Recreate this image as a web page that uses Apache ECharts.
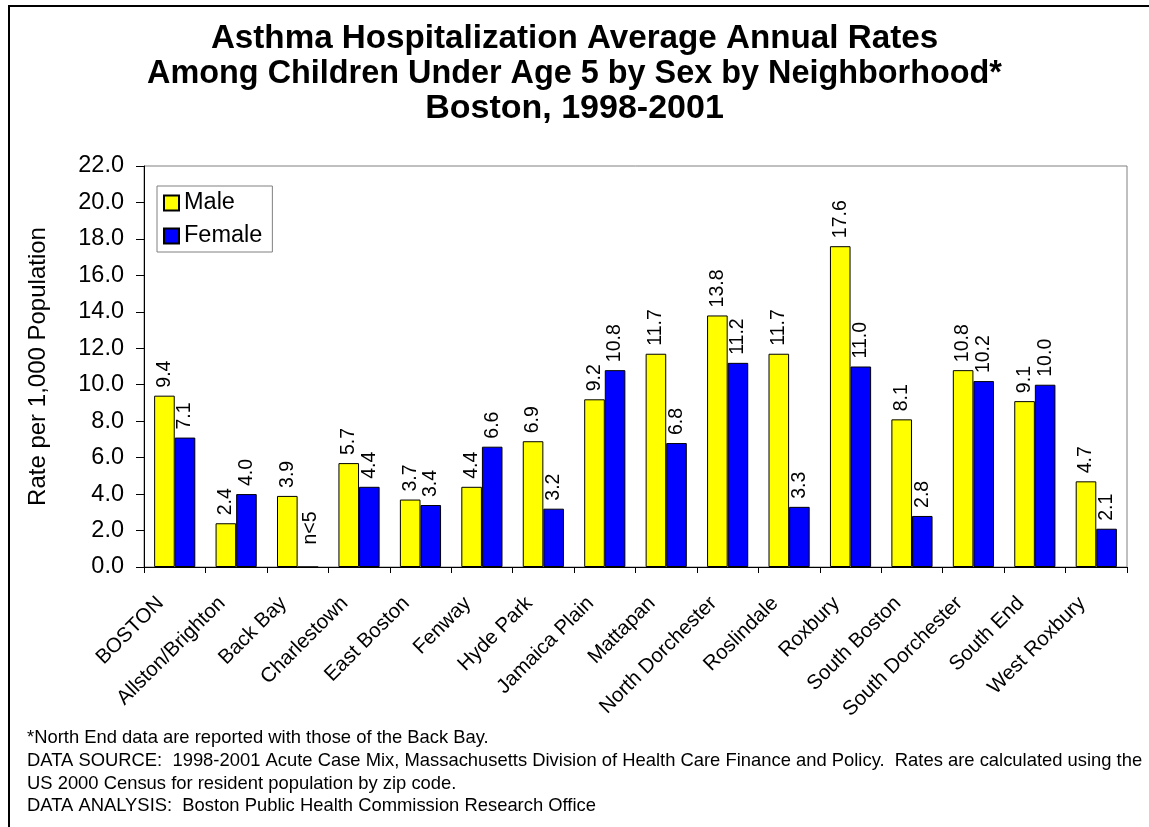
<!DOCTYPE html>
<html>
<head>
<meta charset="utf-8">
<script src="https://cdn.jsdelivr.net/npm/echarts@6/dist/echarts.min.js"></script>
<style>
  html, body { margin: 0; padding: 0; background: #fff; }
  #chart { width: 1149px; height: 827px; }
</style>
</head>
<body>
<div id="chart"></div>
<script>
// neighborhoods
var categories = ['BOSTON', 'Allston/Brighton', 'Back Bay', 'Charlestown', 'East Boston', 'Fenway',
  'Hyde Park', 'Jamaica Plain', 'Mattapan', 'North Dorchester', 'Roslindale', 'Roxbury',
  'South Boston', 'South Dorchester', 'South End', 'West Roxbury'];
var maleRates = [9.4, 2.4, 3.9, 5.7, 3.7, 4.4, 6.9, 9.2, 11.7, 13.8, 11.7, 17.6, 8.1, 10.8, 9.1, 4.7];
// null = too few cases (n<5)
var femaleRates = [7.1, 4.0, null, 4.4, 3.4, 6.6, 3.2, 10.8, 6.8, 11.2, 3.3, 11.0, 2.8, 10.2, 10.0, 2.1];
var yTicks = [0, 22, 2]; // min, max, step

var titleLines = [
  'Asthma Hospitalization Average Annual Rates',
  'Among Children Under Age 5 by Sex by Neighborhood*',
  'Boston, 1998-2001'
];
var notes = [
  '*North End data are reported with those of the Back Bay.',
  'DATA SOURCE:  1998-2001 Acute Case Mix, Massachusetts Division of Health Care Finance and Policy.  Rates are calculated using the',
  'US 2000 Census for resident population by zip code.',
  'DATA ANALYSIS:  Boston Public Health Commission Research Office'
];

var FONT = '"Liberation Sans", Arial, sans-serif';

var chart = echarts.init(document.getElementById('chart'));

var labelStyle = {
  show: true,
  position: 'top',
  rotate: 90,
  align: 'left',
  verticalAlign: 'middle',
  distance: 8,
  fontFamily: FONT,
  fontSize: 19.5,
  color: '#000',
  formatter: function (p) { return p.value.toFixed(1); }
};

var femaleData = femaleRates.map(function (v) {
  if (v === null) {
    // 空值，显示 n<5
    return { value: 0, label: { formatter: 'n<5', distance: 22, offset: [0, 3] } };
  }
  return v;
});

var titleFont = { fontFamily: FONT, fontWeight: 'bold', color: '#000', lineHeight: 34.5 };

var options = {
  backgroundColor: '#fff',
  animation: false,
  title: {
    text: '{a|' + titleLines[0] + '}\n{b|' + titleLines[1] + '}\n{c|' + titleLines[2] + '}',
    left: 'center',
    top: 17,
    textStyle: {
      fontFamily: FONT,
      fontSize: 32.5,
      fontWeight: 'bold',
      lineHeight: 34.5,
      color: '#000',
      rich: {
        a: Object.assign({ fontSize: 33.2 }, titleFont),
        b: Object.assign({ fontSize: 32.4 }, titleFont),
        c: Object.assign({ fontSize: 34 }, titleFont)
      }
    }
  },
  legend: {
    orient: 'vertical',
    left: 157,
    top: 186,
    padding: [4, 10, 3, 6],
    itemGap: 7,
    itemWidth: 15,
    itemHeight: 15,
    icon: 'rect',
    borderColor: '#808080',
    borderWidth: 1,
    backgroundColor: '#fff',
    textStyle: { fontFamily: FONT, fontSize: 23.5, lineHeight: 26, color: '#000' },
    data: ['Male', 'Female']
  },
  grid: {
    left: 144,
    right: 22,
    top: 166,
    bottom: 260,
    show: true,
    borderColor: '#808080',
    borderWidth: 1
  },
  xAxis: {
    type: 'category',
    data: categories,
    axisLine: { lineStyle: { color: '#000', width: 1 } },
    axisTick: { show: true, interval: 0, length: 6, lineStyle: { color: '#000' } },
    axisLabel: {
      interval: 0,
      rotate: 45,
      margin: 19,
      padding: [0, 20, 0, 0],
      fontFamily: FONT,
      fontSize: 20.5,
      color: '#000'
    }
  },
  yAxis: {
    type: 'value',
    name: 'Rate per 1,000 Population',
    nameLocation: 'middle',
    nameGap: 94,
    nameTextStyle: { fontFamily: FONT, fontSize: 24, color: '#000' },
    min: yTicks[0],
    max: yTicks[1],
    interval: yTicks[2],
    axisLine: { show: true, lineStyle: { color: '#000', width: 1 } },
    axisTick: { show: true, length: 8, lineStyle: { color: '#000' } },
    splitLine: { show: false },
    axisLabel: {
      margin: 20,
      fontFamily: FONT,
      fontSize: 23.5,
      color: '#000',
      formatter: function (v) { return v.toFixed(1); }
    }
  },
  series: [
    {
      name: 'Male',
      type: 'bar',
      data: maleRates,
      barGap: '0%',
      barCategoryGap: '33%',
      itemStyle: { color: '#FFFF00', borderColor: '#000', borderWidth: 1 },
      label: labelStyle
    },
    {
      name: 'Female',
      type: 'bar',
      data: femaleData,
      barGap: '0%',
      barCategoryGap: '33%',
      itemStyle: { color: '#0000FF', borderColor: '#000', borderWidth: 1 },
      label: labelStyle
    }
  ],
  graphic: [
    {
      type: 'rect',
      silent: true,
      shape: { x: 9, y: 6, width: 1300, height: 1000 },
      style: { fill: 'none', stroke: '#000', lineWidth: 2 }
    }
  ].concat(notes.map(function (t, i) {
    return {
      type: 'text',
      left: 27,
      top: 729 + i * 22.8,
      style: { text: t, fontFamily: FONT, fontSize: 18.4, fill: '#000' }
    };
  }))
};

chart.setOption(options);
</script>
</body>
</html>
